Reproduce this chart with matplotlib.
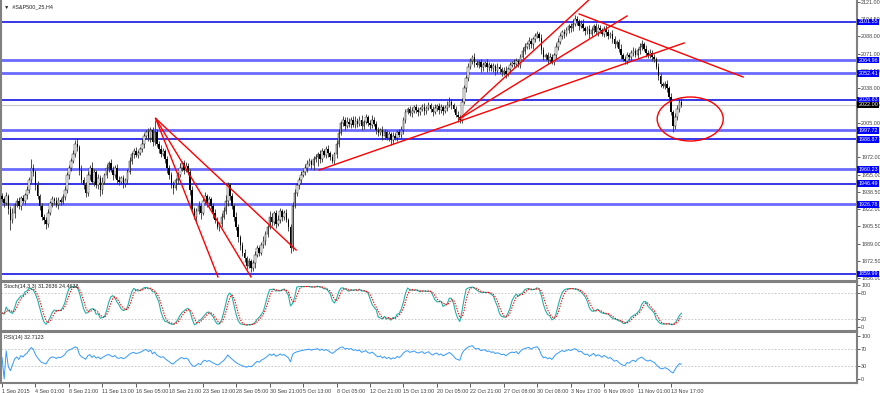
import numpy as np
import pandas as pd
import matplotlib
matplotlib.use('Agg')
import matplotlib.pyplot as plt
from matplotlib.patches import Ellipse

# H4 closes, one per bar
closes = [
    1932, 1928, 1935, 1922, 1912, 1918, 1926, 1930, 1925, 1933,
    1930, 1936, 1940, 1950, 1962, 1958, 1945, 1935, 1925, 1915,
    1912, 1908, 1918, 1928, 1932, 1930, 1926, 1931, 1929, 1934,
    1940, 1955, 1962, 1968, 1975, 1985, 1982, 1960, 1950, 1945,
    1938, 1955, 1962, 1948, 1958, 1945, 1952, 1940, 1948, 1955,
    1962, 1966, 1960, 1955, 1962, 1950, 1948, 1952, 1946, 1950,
    1958, 1968, 1975, 1978, 1974, 1976, 1980, 1985, 1992, 1996,
    1990, 1998, 1986, 1996, 1985, 1980, 1975, 1978, 1970, 1962,
    1955, 1945, 1942, 1950, 1955, 1962, 1966, 1960, 1963, 1958,
    1940, 1922, 1915, 1920, 1925, 1918, 1930, 1935, 1928, 1932,
    1925, 1918, 1912, 1905, 1908, 1915, 1920, 1930, 1945, 1935,
    1925, 1915, 1905, 1895, 1888, 1880, 1875, 1868, 1872, 1866,
    1870, 1878, 1885, 1880, 1888, 1892, 1898, 1905, 1915, 1910,
    1918, 1908, 1912, 1920, 1915, 1918, 1912, 1905, 1885, 1925,
    1938, 1945, 1950, 1955, 1958, 1962, 1965, 1968, 1964, 1970,
    1972, 1975, 1970, 1978, 1974, 1980, 1976, 1972, 1968, 1975,
    1985, 1995, 2005, 2008, 2002, 2006, 2004, 2008, 2003, 2007,
    2004, 2008, 2002, 2006, 2010, 2005, 2003, 2008, 2004, 1998,
    1995, 1998, 1992, 1996, 1990, 1994, 1988, 1992, 1990, 1996,
    1993, 1998, 2008, 2015, 2018, 2014, 2016, 2020, 2017, 2015,
    2018, 2020, 2016, 2019, 2022, 2018, 2015, 2019, 2021, 2017,
    2020, 2016, 2019, 2022, 2025, 2022, 2018, 2012, 2010, 2008,
    2025, 2038, 2048, 2058, 2064, 2068, 2062, 2060, 2063, 2058,
    2060, 2062, 2058, 2060, 2057, 2059, 2055, 2058, 2056, 2054,
    2055, 2052, 2056, 2060, 2062, 2061, 2064, 2060, 2068, 2074,
    2078, 2080, 2083, 2080, 2085, 2088, 2090, 2086, 2075, 2068,
    2070, 2065, 2068, 2063, 2070, 2078, 2082, 2088, 2092, 2090,
    2094, 2098, 2096, 2100, 2104, 2102, 2098, 2100, 2096, 2093,
    2095, 2090, 2094, 2098, 2092, 2096, 2094, 2090, 2095, 2092,
    2088, 2090, 2085, 2080, 2082, 2076, 2070, 2066, 2064, 2070,
    2068, 2072, 2074, 2070, 2075, 2078, 2080, 2076, 2072, 2070,
    2072, 2068, 2066, 2058, 2050, 2042, 2040, 2042, 2038, 2030,
    2015, 2002, 2010, 2018, 2025, 2022,
]
first_open = 1935

# wick lengths above / below the body
wick_up = [
    3, 2, 4, 2, 3, 5, 2, 3, 4, 2,  3, 2, 4, 3, 8, 3, 2, 4, 2, 3,
    2, 3, 4, 2, 3, 2, 4, 3, 2, 3,  4, 3, 2, 3, 4, 3, 5, 2, 4, 3,
    3, 4, 2, 5, 3, 2, 4, 3, 5, 2,  3, 2, 4, 3, 2, 3, 4, 2, 3, 2,
    3, 4, 2, 3, 4, 3, 2, 4, 3, 2,  4, 3, 3, 12, 3, 2, 4, 3, 2, 3,
    2, 3, 4, 2, 3, 4, 2, 3, 4, 3,  3, 4, 2, 3, 5, 2, 3, 4, 2, 3,
    2, 3, 4, 3, 2, 3, 4, 6, 3, 2,  3, 2, 4, 3, 2, 3, 4, 2, 3, 2,
    3, 4, 3, 2, 3, 4, 3, 2, 5, 3,  2, 3, 4, 3, 2, 3, 4, 2, 3, 4,
    3, 2, 3, 4, 2, 3, 4, 3, 2, 3,  3, 2, 4, 3, 2, 3, 4, 2, 3, 2,
    3, 4, 2, 3, 2, 4, 3, 2, 3, 4,  2, 3, 4, 2, 3, 2, 3, 4, 2, 3,
    3, 2, 4, 3, 2, 3, 2, 4, 3, 2,  3, 4, 2, 3, 2, 3, 4, 2, 3, 3,
    2, 3, 4, 2, 3, 2, 3, 4, 2, 3,  3, 2, 3, 4, 5, 3, 2, 3, 4, 2,
    4, 3, 3, 4, 3, 2, 4, 3, 2, 3,  3, 2, 4, 3, 2, 3, 2, 4, 3, 2,
    3, 4, 2, 3, 2, 4, 3, 2, 3, 4,  3, 2, 4, 3, 2, 3, 3, 2, 4, 3,
    2, 3, 4, 3, 2, 3, 4, 3, 2, 3,  3, 2, 3, 4, 4, 3, 2, 3, 4, 2,
    3, 4, 3, 2, 3, 4, 3, 2, 3, 4,  3, 2, 4, 3, 2, 3, 4, 2, 3, 3,
    2, 3, 4, 3, 2, 3, 4, 2, 3, 3,  4, 3, 3, 2, 4, 3, 2, 3, 4, 2,
    3, 2, 4, 4, 3, 4,
]
wick_dn = [
    3, 4, 2, 5, 10, 3, 4, 2, 3, 4,  2, 3, 4, 2, 3, 4, 5, 3, 4, 3,
    4, 5, 3, 2, 4, 3, 2, 4, 3, 2,  3, 2, 4, 3, 2, 3, 4, 5, 3, 4,
    4, 3, 5, 2, 4, 3, 4, 5, 3, 2,  3, 4, 2, 5, 3, 4, 3, 2, 4, 3,
    4, 2, 3, 4, 2, 3, 2, 3, 4, 2,  3, 4, 3, 2, 3, 4, 3, 2, 4, 5,
    4, 3, 5, 2, 3, 2, 3, 4, 2, 3,  4, 3, 2, 4, 3, 5, 2, 3, 4, 3,
    3, 4, 3, 2, 4, 3, 2, 3, 5, 4,  3, 4, 3, 4, 5, 3, 4, 3, 2, 4,
    3, 4, 2, 3, 2, 3, 4, 3, 2, 4,  3, 4, 2, 3, 4, 3, 2, 4, 5, 3,
    2, 3, 4, 3, 2, 3, 4, 2, 3, 4,  3, 9, 4, 3, 2, 3, 4, 3, 2, 3,
    4, 3, 2, 3, 4, 2, 3, 4, 2, 3,  3, 2, 4, 3, 2, 3, 4, 3, 2, 4,
    3, 2, 4, 3, 2, 3, 4, 3, 2, 3,  2, 3, 4, 3, 2, 3, 4, 2, 3, 4,
    3, 2, 4, 3, 2, 3, 4, 2, 3, 4,  3, 4, 2, 3, 2, 4, 3, 2, 4, 3,
    3, 2, 4, 3, 2, 3, 4, 2, 3, 4,  3, 2, 4, 3, 2, 3, 4, 2, 3, 4,
    3, 4, 2, 3, 2, 4, 3, 2, 3, 4,  3, 2, 4, 3, 4, 3, 2, 3, 4, 3,
    3, 4, 3, 2, 3, 4, 3, 2, 3, 4,  2, 3, 4, 3, 2, 3, 4, 2, 3, 4,
    3, 4, 2, 3, 2, 4, 3, 2, 3, 4,  3, 2, 4, 3, 2, 3, 4, 2, 3, 3,
    3, 4, 3, 2, 3, 4, 3, 2, 4, 3,  3, 4, 3, 2, 4, 3, 2, 3, 4, 3,
    3, 6, 3, 2, 3, 2,
]

tick_labels = ['1 Sep 2015', '4 Sep 01:00', '8 Sep 21:00', '11 Sep 13:00', '16 Sep 05:00',
               '18 Sep 21:00', '23 Sep 13:00', '28 Sep 05:00', '30 Sep 21:00', '5 Oct 13:00',
               '8 Oct 05:00', '12 Oct 21:00', '15 Oct 13:00', '20 Oct 05:00', '22 Oct 21:00',
               '27 Oct 08:00', '30 Oct 08:00', '3 Nov 17:00', '6 Nov 09:00', '11 Nov 01:00',
               '13 Nov 17:00']
tick_bars = list(range(0, 16 * len(tick_labels), 16))

price_ticks = [2121.00, 2104.50, 2088.00, 2071.00, 2054.50, 2038.00, 2021.50, 2005.00, 1988.50,
               1972.00, 1955.00, 1938.50, 1922.00, 1905.50, 1889.00, 1872.50, 1856.00]

# horizontal support / resistance levels
levels_dark = [2101.55, 2026.83, 1988.87, 1946.49, 1859.99]
levels_light = [2064.96, 2052.41, 1997.72, 1960.23, 1926.78]
current_price = 2022.00

# red trend lines as (bar, price) anchor pairs
trend_lines = [
    [(73.5, 2009.0), (103.3, 1857.1)],
    [(73.5, 2009.0), (119.1, 1857.1)],
    [(73.5, 2009.0), (140.7, 1882.9)],
    [(218.7, 2008.5), (282.0, 2125.0)],
    [(218.7, 2008.5), (299.0, 2107.3)],
    [(151.7, 1959.6), (326.3, 2081.4)],
    [(276.1, 2109.2), (354.5, 2048.8)],
]
circle_center = (329.2, 2008.5)
circle_size = (31.6, 42.2)

stoch_text = 'Stoch(14,3,3) 31.2636 24.4638'
rsi_text = 'RSI(14) 32.7123'

plt.rcParams['font.family'] = ['Liberation Sans', 'DejaVu Sans']
fs = 3.9

c = np.array(closes, dtype=float)
o = np.r_[first_open, c[:-1]]
hi = np.maximum(o, c) + np.array(wick_up)
lo = np.minimum(o, c) - np.array(wick_dn)
idx = np.arange(len(c))

# indicators
H, L, C = pd.Series(hi), pd.Series(lo), pd.Series(c)
hh = H.rolling(14, min_periods=1).max()
ll = L.rolling(14, min_periods=1).min()
k = 100 * (C - ll).rolling(3, min_periods=1).sum() / (hh - ll).rolling(3, min_periods=1).sum()
d = k.rolling(3, min_periods=1).mean()
delta = C.diff().fillna(0)
up = delta.clip(lower=0).ewm(alpha=1 / 14, adjust=False).mean()
dn = (-delta.clip(upper=0)).ewm(alpha=1 / 14, adjust=False).mean()
rsi = 100 - 100 / (1 + up / dn.replace(0, np.nan))
rsi = rsi.fillna(50)

W, Hh = 880, 393
fig = plt.figure(figsize=(W / 100, Hh / 100), dpi=100)
fig.patch.set_facecolor('white')
left, width = 1 / W, 856 / W
ax = fig.add_axes([left, 1 - 281 / Hh, width, 281 / Hh])
ax_s = fig.add_axes([left, 1 - 331 / Hh, width, 49 / Hh], sharex=ax)
ax_r = fig.add_axes([left, 1 - 383 / Hh, width, 51 / Hh], sharex=ax)

xlim = (-0.5, 409)
gray = '#808080'
for a in (ax, ax_s, ax_r):
    a.set_xlim(*xlim)
    for s in a.spines.values():
        s.set_color(gray)
        s.set_linewidth(1.5)
    a.yaxis.tick_right()
    a.tick_params(axis='y', direction='out', length=2, width=0.6, colors='#404040',
                  labelsize=fs, pad=1)
    a.tick_params(axis='x', bottom=False, labelbottom=False)
ax.spines['top'].set_visible(False)

# main price panel
ax.set_ylim(1853.2, 2122.6)
ax.set_yticks(price_ticks)
ax.set_yticklabels(['%.2f' % v for v in price_ticks])

for v in levels_dark:
    ax.axhline(v, color='#0000e0', lw=1.1, zorder=2)
for v in levels_light:
    ax.axhline(v, color='#6a6aff', lw=2.0, zorder=2)
ax.axhline(current_price, color='#c8c8c8', lw=0.8, zorder=1)

ax.vlines(idx, lo, hi, color='#303030', lw=0.6, zorder=3)
bull = c >= o
ax.bar(idx[bull], c[bull] - o[bull], bottom=o[bull], width=0.75, color='white',
       edgecolor='black', linewidth=0.3, zorder=4)
ax.bar(idx[~bull], o[~bull] - c[~bull], bottom=c[~bull], width=0.75, color='black',
       linewidth=0, zorder=4)

for (x0, y0), (x1, y1) in trend_lines:
    ax.plot([x0, x1], [y0, y1], color='red', lw=1.0, zorder=5)
ax.add_patch(Ellipse(circle_center, circle_size[0], circle_size[1], fill=False,
                     edgecolor='red', lw=1.0, zorder=5))

ytr = ax.get_yaxis_transform()
for v in levels_dark + levels_light:
    ax.text(1.0015, v, '%.2f' % v, transform=ytr, fontsize=fs, color='white', va='center',
            ha='left', clip_on=False, zorder=10,
            bbox=dict(boxstyle='square,pad=0.15', fc='#0000ff', ec='none'))
ax.text(1.0015, current_price, '%.2f' % current_price, transform=ytr, fontsize=fs,
        color='white', va='center', ha='left', clip_on=False, zorder=10,
        bbox=dict(boxstyle='square,pad=0.15', fc='black', ec='none'))

ax.text(0.004, 0.985, '\u25bc  #S&P500_25,H4', transform=ax.transAxes, fontsize=fs,
        va='top', ha='left', color='#202020')

# stochastic panel
ax_s.set_ylim(-9.5, 107)
ax_s.set_yticks([100, 80, 20, 0])
for v in (80, 20):
    ax_s.axhline(v, color='#c0c0c0', lw=0.6, ls=(0, (2, 2)))
ax_s.plot(idx, k, color='#20b2aa', lw=0.8)
ax_s.plot(idx, d, color='red', lw=0.8, ls=(0, (1.2, 1.2)))
ax_s.text(0.004, 0.95, stoch_text, transform=ax_s.transAxes, fontsize=fs, va='top',
          ha='left', color='#202020')

# RSI panel
ax_r.set_ylim(-9.3, 109.3)
ax_r.set_yticks([100, 70, 30, 0])
for v in (70, 30):
    ax_r.axhline(v, color='#c0c0c0', lw=0.6, ls=(0, (2, 2)))
ax_r.plot(idx, rsi, color='#3399ff', lw=0.7)
ax_r.text(0.004, 0.95, rsi_text, transform=ax_r.transAxes, fontsize=fs, va='top',
          ha='left', color='#202020')

ax_r.tick_params(axis='x', bottom=True, labelbottom=True, direction='out', length=3,
                 width=0.6, colors='#404040', labelsize=fs, pad=1)
ax_r.set_xticks(tick_bars)
ax_r.set_xticklabels(tick_labels, ha='left')

fig.savefig('out.png', dpi=100, facecolor='white')
